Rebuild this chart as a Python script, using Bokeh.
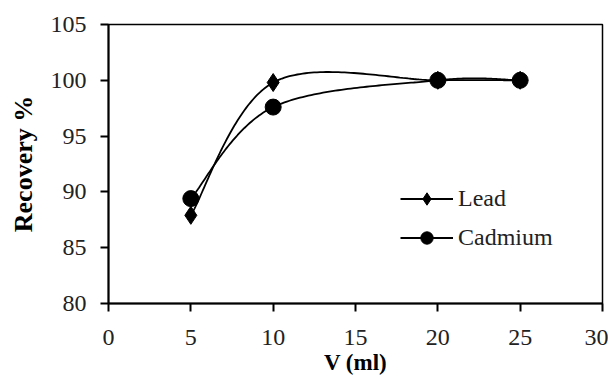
import numpy as np
from bokeh.plotting import figure
from bokeh.models import Range1d, Legend, LegendItem, FixedTicker
from bokeh.embed import file_html
from bokeh.resources import INLINE

volume = [5, 10, 20, 25]
lead = [87.9, 99.8, 100.0, 100.0]
cadmium = [89.4, 97.6, 100.0, 100.0]
x_ticks = [0, 5, 10, 15, 20, 25, 30]
y_ticks = [80, 85, 90, 95, 100, 105]


def smooth(xs, ys, n=60):
    """Excel-style smoothed line: cubic Bezier segments with Catmull-Rom control points."""
    xs = np.asarray(xs, float)
    ys = np.asarray(ys, float)
    px, py = [], []
    m = len(xs)
    for i in range(m - 1):
        i0 = max(i - 1, 0)
        i3 = min(i + 2, m - 1)
        x1, y1 = xs[i], ys[i]
        x2, y2 = xs[i + 1], ys[i + 1]
        c1x = x1 + (x2 - xs[i0]) / 6.0
        c1y = y1 + (y2 - ys[i0]) / 6.0
        c2x = x2 - (xs[i3] - x1) / 6.0
        c2y = y2 - (ys[i3] - y1) / 6.0
        t = np.linspace(0, 1, n)
        a = (1 - t) ** 3
        b = 3 * (1 - t) ** 2 * t
        c = 3 * (1 - t) * t ** 2
        d = t ** 3
        px.extend(a * x1 + b * c1x + c * c2x + d * x2)
        py.extend(a * y1 + b * c1y + c * c2y + d * y2)
    return px, py


FONT = "Liberation Serif"

p = figure(width=608, height=377, output_backend="svg", toolbar_location=None,
           x_range=Range1d(0, 30), y_range=Range1d(80, 105),
           min_border_left=108, min_border_right=6, min_border_top=24, min_border_bottom=74)

p.xgrid.visible = False
p.ygrid.visible = False
p.outline_line_color = "black"
p.outline_line_width = 1.5
p.background_fill_color = "white"
p.border_fill_color = "white"

for ax in (p.xaxis[0], p.yaxis[0]):
    ax.axis_line_width = 2
    ax.axis_line_color = "black"
    ax.major_tick_line_width = 2
    ax.major_tick_line_color = "black"
    ax.major_tick_out = 8
    ax.major_tick_in = 0
    ax.minor_tick_line_color = None
    ax.major_label_text_font = FONT
    ax.major_label_text_font_size = "24px"
    ax.major_label_text_color = "#222222"
    ax.axis_label_text_font = FONT
    ax.axis_label_text_font_style = "bold"
    ax.axis_label_text_color = "black"

p.xaxis.axis_label_text_font_size = "23px"
p.yaxis.axis_label_text_font_size = "26px"
p.xaxis.ticker = FixedTicker(ticks=x_ticks)
p.yaxis.ticker = FixedTicker(ticks=y_ticks)
p.xaxis.axis_label = "V (ml)"
p.yaxis.axis_label = "Recovery %"
p.xaxis.major_label_standoff = 18
p.yaxis.major_label_standoff = 14
p.xaxis.axis_label_standoff = 2
p.yaxis.axis_label_standoff = 10

lx, ly = smooth(volume, lead)
cx, cy = smooth(volume, cadmium)

lead_line = p.line(lx, ly, line_color="black", line_width=1.8)
lead_pts = p.scatter(volume, lead, marker="diamond", size=18,
                     fill_color="black", line_color="black")
cad_line = p.line(cx, cy, line_color="black", line_width=1.8)
cad_pts = p.scatter(volume, cadmium, marker="circle", size=16,
                    fill_color="black", line_color="black")

legend = Legend(items=[
    LegendItem(label="Lead", renderers=[lead_line, lead_pts]),
    LegendItem(label="Cadmium", renderers=[cad_line, cad_pts]),
], location=(292, 50))
legend.label_text_font = FONT
legend.label_text_font_size = "24px"
legend.label_text_color = "#222222"
legend.glyph_width = 53
legend.glyph_height = 31
legend.label_height = 31
legend.spacing = 8
legend.padding = 0
legend.margin = 0
legend.label_standoff = 5
legend.border_line_color = None
legend.background_fill_alpha = 0
p.add_layout(legend, "center")

open("out.html", "w").write(file_html(p, INLINE))
